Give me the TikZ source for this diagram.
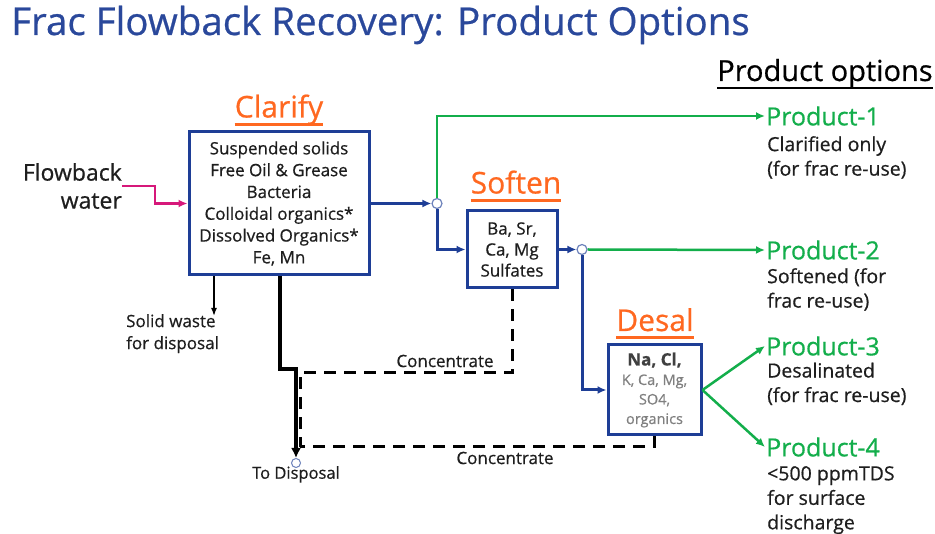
\documentclass[tikz,border=0pt]{standalone}
\usepackage{fontspec}
\setmainfont{Open Sans}[FakeBold=0.6]
\usetikzlibrary{arrows.meta, positioning, calc}

\definecolor{ttlblue}{RGB}{42,72,155}
\definecolor{boxblue}{RGB}{30,62,150}
\definecolor{stageorange}{RGB}{255,104,32}
\definecolor{prodgreen}{RGB}{19,174,75}
\definecolor{feedpink}{RGB}{214,24,122}
\definecolor{darktxt}{RGB}{30,30,30}

\begin{document}
\begin{tikzpicture}[x=1pt, y=-1pt,
    box/.style={rectangle, draw=boxblue, line width=3pt, fill=white, align=center, inner sep=0pt, text=darktxt},
    stage/.style={font=\fontsize{30}{34}\selectfont, text=stageorange, inner xsep=0pt, inner ysep=0.5pt, text height=22pt, text depth=6pt,
        append after command={(\tikzlastnode.south west) edge[draw=stageorange, line width=3pt] (\tikzlastnode.south east)}},
    prodname/.style={font=\fontsize{25}{28}\selectfont, text=prodgreen, anchor=west, inner sep=1pt},
    desc/.style={font=\fontsize{19.5}{24.5}\selectfont, text=darktxt, align=left, anchor=north west, inner sep=0pt},
    note/.style={font=\fontsize{17}{22}\selectfont, text=darktxt, align=left, inner sep=0pt},
    junction/.style={circle, draw=boxblue!65!white, fill=white, line width=1.2pt, inner sep=0pt, minimum size=10pt},
    flow/.style={draw=boxblue, line width=3pt, -{Latex[length=9pt, width=8pt]}},
    prod/.style={draw=prodgreen, line width=2.5pt, -{Latex[length=9pt, width=8pt]}},
    conc/.style={draw=black, line width=3pt, dash pattern=on 12pt off 8pt},
]
    \useasboundingbox (0,0) rectangle (935,534);

    % title
    \node[font=\fontsize{38.5}{44}\selectfont, text=ttlblue, anchor=west, inner sep=0pt] (ttl) at (11,25) {Frac Flowback Recovery: Product Options};

    % header of the product column
    \node[font=\fontsize{29}{32}\selectfont, text=black, inner xsep=0pt, inner ysep=1pt, text height=21pt, text depth=6pt] (popt) at (825,73.5) {Product options};
    \draw[black, line width=1.8pt] (popt.south west) -- (popt.south east);

    % Clarify stage
    \node[stage] (clarl) at (279,109.5) {Clarify};
    \node[box, minimum width=180pt, minimum height=143pt, font=\fontsize{17}{21.8}\selectfont] (clar) at (279,203.5)
        {Suspended solids\\Free Oil \& Grease\\Bacteria\\Colloidal organics*\\Dissolved Organics*\\Fe, Mn};
    \node[font=\fontsize{23}{28}\selectfont, align=right, anchor=east, text=darktxt, inner sep=0pt] (feed) at (122,186) {Flowback\\water};
    \draw[draw=feedpink, line width=2.5pt, -{Latex[length=9pt, width=8pt]}] (feed.east |- 0,186) -- (155,186) |- (clar.west);

    % Soften stage
    \node[stage] (softl) at (516,185.5) {Soften};
    \node[box, minimum width=90pt, minimum height=77pt, font=\fontsize{17}{21}\selectfont] (soft) at (512,249.5)
        {Ba, Sr,\\Ca, Mg\\Sulfates};

    % Desal stage
    \node[stage] (desall) at (655,323) {Desal};
    \node[box, minimum width=93pt, minimum height=90pt, font=\fontsize{14.5}{19.5}\selectfont, text=gray] (desal) at (654.5,390)
        {\textcolor{black!75}{\fontsize{17}{19.5}\selectfont\bfseries Na, Cl,}\\K, Ca, Mg,\\SO4,\\organics};

    % junctions
    \node[junction] (j1) at (437,203.5) {};
    \node[junction] (j2) at (582,249.5) {};

    % products
    \node[prodname] (p1) at (765,116) {Product-1};
    \node[desc] (d1) at (767,136) {Clarified only\\(for frac re-use)};
    \node[prodname] (p2) at (765,250) {Product-2};
    \node[desc] (d2) at (767,268) {Softened (for\\frac re-use)};
    \node[prodname] (p3) at (765,346) {Product-3};
    \node[desc] (d3) at (767,362.5) {Desalinated\\(for frac re-use)};
    \node[prodname] (p4) at (765,447) {Product-4};
    \node[desc] (d4) at (767,466) {<500 ppmTDS\\for surface\\discharge};

    % main flow
    \draw[flow] (clar.east) -- (j1.west);
    \draw[prod] (j1.north) |- (p1.west);
    \draw[flow] (j1.south) |- (soft.west);
    \draw[flow] (soft.east) -- (j2.west);
    \draw[prod] (j2.east) -- (p2.west);
    \draw[flow] (j2.south) |- (desal.west);
    \draw[prod] (desal.east) -- (p3.west);
    \draw[prod] (desal.east) -- (p4.west);

    % solids and concentrate to disposal
    \node[note, anchor=north west] (sw) at (126,314) {Solid waste\\for disposal};
    \coordinate (swtop) at (214,316);
    \draw[black, line width=1.5pt, -{Latex[length=8pt, width=6pt]}] (clar.south -| swtop) -- (swtop);

    \node[junction, minimum size=9pt, line width=1pt] (disp) at (296,463) {};
    \node[note, anchor=north, font=\fontsize{16.5}{20}\selectfont] (dl) at (296,466) {To Disposal};
    \coordinate (bend) at (280,369);
    \draw[black, line width=3.5pt, -{Latex[length=10pt, width=10pt]}] (clar.south -| bend) -- (bend) -| (disp.north);

    \coordinate (ct) at (300,373);
    \coordinate (cb) at (300,447);
    \draw[conc] (soft.south) |- (ct) -- (cb);
    \draw[conc] (desal.south) |- (cb);
    \node[note] (c1) at (445,361) {Concentrate};
    \node[note] (c2) at (505,458) {Concentrate};
\end{tikzpicture}
\end{document}
